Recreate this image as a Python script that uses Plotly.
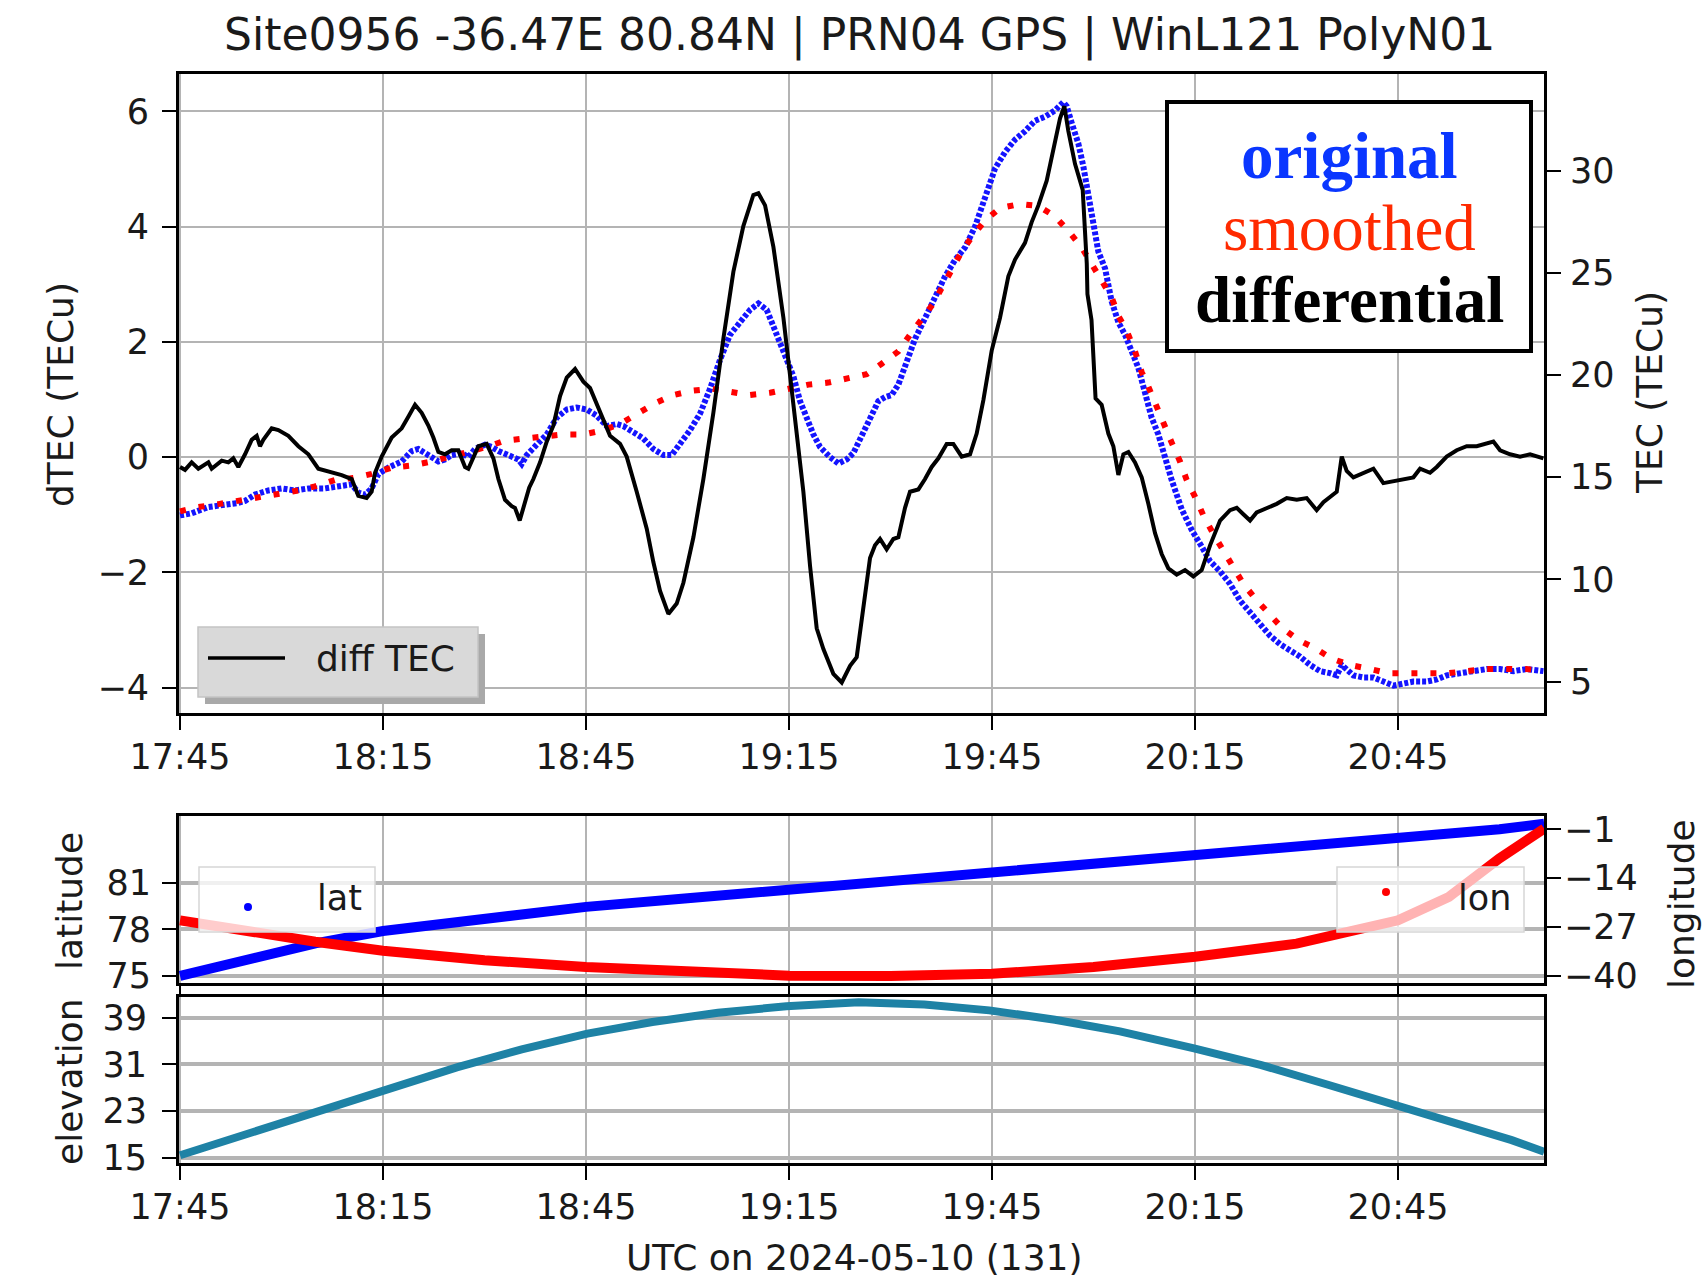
import pandas as pd
import plotly.graph_objects as go

W, H = 1705, 1277
BASE = pd.Timestamp("2024-05-10 17:45:00")

# ---------------- data (minutes after 17:45 UTC) ----------------
diff_min = [0, 0.74, 1.72, 2.71, 4.19, 4.68, 6.16, 7.14, 7.88, 8.62, 9.61, 10.59, 11.33, 11.82,
            12.31, 13.55, 14.53, 16.01, 17.49, 18.97, 20.44, 21.92, 23.89, 25.37, 26.35, 27.58,
            28.32, 28.82, 29.80, 31.28, 32.76, 33.74, 34.73, 35.71, 36.70, 37.44, 38.18, 39.16,
            40.15, 41.13, 42.12, 42.61, 43.10, 44.09, 45.32, 46.31, 47.05, 48.03, 49.02, 49.5,
            50.2, 51.0, 51.6, 52.22, 53.21, 54.19, 55.18, 56.16, 57.15, 58.38, 59.61, 60.59, 62.07,
            63.55, 65.03, 66.01, 67.49, 68.97, 69.95, 70.94, 72.17, 73.40, 74.39, 75.87, 77.34,
            78.82, 80.30, 81.78, 83.25, 84.73, 85.47, 86.46, 87.69, 89.17, 90.15, 91.14, 92.12,
            93.11, 94.09, 95.08, 96.55, 97.79, 99.02, 100.0, 100.99, 101.97, 102.71, 103.45,
            104.43, 105.42, 106.16, 107.14, 107.88, 109.11, 110.10, 111.08, 112.07, 113.30,
            114.28, 115.52, 116.75, 117.73, 118.72, 119.95, 121.18, 122.41, 123.40, 124.87,
            125.86, 126.85, 128.08, 129.06, 130.05, 130.69, 131.28, 132.26, 133.4, 134.0, 134.1,
            134.7, 135.3, 136.20, 137.19, 137.93, 138.67, 139.41, 140.15, 141.13, 142.12, 143.10,
            144.09, 145.07, 146.06, 147.29, 148.52, 149.75, 150.98, 152.22, 153.70, 155.17,
            156.16, 157.14, 158.13, 159.11, 160.59, 162.07, 163.55, 165.03, 166.50, 167.98,
            168.97, 170.44, 170.94, 171.68, 172.41, 173.40, 174.88, 176.36, 177.83, 179.31,
            180.79, 182.27, 183.25, 184.73, 185.72, 187.19, 188.67, 190.15, 191.63, 193.10,
            194.09, 195.08, 196.55, 198.03, 199.51, 201.48]
diff_tec = [-0.17, -0.22, -0.09, -0.20, -0.09, -0.20, -0.06, -0.09, -0.02, -0.17, 0.05, 0.30, 0.37,
            0.19, 0.30, 0.50, 0.47, 0.37, 0.19, 0.05, -0.20, -0.24, -0.31, -0.38, -0.67, -0.71,
            -0.60, -0.27, 0.01, 0.34, 0.50, 0.70, 0.91, 0.77, 0.55, 0.34, 0.09, 0.05, 0.12, 0.12,
            -0.17, -0.20, -0.06, 0.19, 0.23, -0.02, -0.38, -0.74, -0.85, -0.88, -1.10, -0.75,
            -0.53, -0.38, -0.09, 0.27, 0.55, 1.06, 1.38, 1.53, 1.31, 1.20, 0.77, 0.37, 0.23, 0.01,
            -0.60, -1.24, -1.82, -2.32, -2.72, -2.54, -2.18, -1.39, -0.38, 0.77, 2.06, 3.22, 4.01,
            4.55, 4.58, 4.37, 3.65, 2.42, 1.42, 0.41, -0.60, -1.89, -2.97, -3.33, -3.76, -3.91,
            -3.62, -3.47, -2.61, -1.75, -1.53, -1.42, -1.60, -1.42, -1.39, -0.88, -0.60, -0.56,
            -0.38, -0.17, -0.02, 0.23, 0.23, 0.01, 0.05, 0.41, 0.99, 1.85, 2.42, 3.14, 3.43, 3.72,
            4.08, 4.37, 4.80, 5.30, 5.88, 6.09, 5.66, 5.09, 4.64, 3.36, 2.83, 2.38, 1.02, 0.91,
            0.41, 0.19, -0.31, 0.05, 0.09, -0.09, -0.35, -0.81, -1.32, -1.68, -1.93, -2.04,
            -1.96, -2.07, -1.96, -1.53, -1.10, -0.92, -0.88, -0.99, -1.10, -0.96, -0.88, -0.81,
            -0.71, -0.74, -0.71, -0.92, -0.78, -0.63, -0.60, 0.01, -0.24, -0.35, -0.27, -0.20,
            -0.45, -0.42, -0.38, -0.35, -0.20, -0.27, -0.17, 0.01, 0.12, 0.19, 0.19, 0.23, 0.27,
            0.12, 0.05, 0.01, 0.05, -0.02]

orig_min = [0, 1.72, 4.19, 6.65, 8.62, 9.61, 11.08, 13.05, 15.02, 16.99, 18.97, 21.43, 23.89,
            25.37, 26.35, 27.34, 28.32, 29.31, 30.79, 32.76, 34.24, 35.22, 36.70, 38.18, 39.16,
            40.15, 41.63, 42.61, 43.60, 45.08, 46.06, 47.05, 48.52, 50.0, 50.5, 51.24, 52.71,
            54.19, 55.67, 57.15, 58.62, 60.10, 61.58, 63.06, 64.54, 65.52, 67.0, 68.48, 69.95,
            71.43, 72.66, 73.89, 75.37, 76.85, 78.33, 79.81, 81.28, 82.76, 84.24, 85.47, 86.70,
            87.69, 88.67, 89.66, 90.64, 91.63, 92.61, 93.60, 94.58, 96.06, 97.29, 98.52, 99.51,
            100.50, 101.23, 102.22, 103.20, 104.19, 105.17, 106.16, 107.14, 108.62, 110.10,
            111.57, 113.05, 114.53, 116.01, 117.49, 118.96, 120.44, 121.92, 123.40, 124.87,
            126.35, 127.83, 129.31, 130.54, 131.03, 131.77, 132.76, 133.50, 134.23, 134.97,
            135.71, 136.70, 137.68, 138.67, 139.65, 140.64, 141.62, 142.61, 143.59, 144.58,
            145.56, 146.55, 148.03, 149.50, 150.98, 152.22, 153.70, 155.17, 156.65, 158.13,
            159.61, 161.09, 162.56, 164.04, 165.52, 167.0, 168.47, 169.95, 170.94, 171.68,
            172.41, 173.40, 174.88, 176.36, 177.83, 179.31, 180.79, 182.27, 184.24, 185.72,
            187.19, 189.16, 191.13, 193.10, 195.08, 197.04, 199.01, 201.48]
orig_tec = [13.13, 13.23, 13.54, 13.64, 13.74, 13.84, 14.15, 14.35, 14.45, 14.35, 14.45, 14.45,
            14.55, 14.65, 14.25, 14.15, 14.45, 15.16, 15.47, 15.77, 16.28, 16.38, 16.08, 15.77,
            15.87, 16.08, 16.18, 15.98, 16.38, 16.59, 16.48, 16.28, 16.08, 15.87, 15.65, 16.08,
            16.59, 17.09, 17.91, 18.31, 18.41, 18.31, 18.01, 17.50, 17.60, 17.50, 17.20, 16.89,
            16.38, 16.08, 16.08, 16.59, 17.30, 18.11, 19.33, 20.75, 21.97, 22.58, 23.19, 23.50,
            23.19, 22.38, 21.57, 20.75, 19.94, 18.72, 17.91, 17.09, 16.48, 15.98, 15.67, 15.87,
            16.18, 16.89, 17.30, 18.11, 18.72, 18.92, 19.02, 19.53, 20.35, 21.77, 22.78, 23.80,
            24.82, 25.63, 26.24, 27.26, 28.68, 30.10, 30.91, 31.52, 31.93, 32.44, 32.64, 32.95,
            33.35, 33.15, 32.34, 31.32, 30.20, 28.88, 27.46, 26.04, 25.22, 23.60, 22.58, 21.97,
            21.16, 20.35, 19.13, 17.91, 17.09, 15.87, 14.86, 13.43, 12.42, 11.61, 10.89, 10.39,
            9.78, 8.96, 8.35, 7.74, 7.24, 6.83, 6.52, 6.22, 5.81, 5.51, 5.41, 5.30, 5.81, 5.61,
            5.30, 5.20, 5.20, 5.00, 4.80, 4.90, 5.00, 5.00, 5.10, 5.30, 5.41, 5.51, 5.61, 5.61,
            5.51, 5.61, 5.51]

smooth_min = [0, 2.71, 5.67, 8.62, 11.58, 14.53, 17.49, 19.95, 22.91, 25.62, 28.32, 31.28, 34.24,
              37.19, 39.65, 42.61, 45.32, 48.03, 50.74, 53.70, 56.65, 59.61, 62.57, 65.03, 67.49,
              70.20, 72.91, 75.62, 78.57, 81.53, 84.24, 87.20, 89.90, 92.86, 95.81, 98.77,
              101.48, 103.69, 106.16, 107.88, 109.60, 111.33, 112.81, 114.04, 115.52, 116.99,
              118.96, 121.18, 124.14, 126.85, 129.31, 131.28, 133.25, 134.73, 136.20, 137.68,
              138.67, 139.90, 141.13, 142.12, 143.10, 144.33, 145.56, 146.55, 147.78, 148.77,
              150.0, 151.23, 152.71, 154.19, 155.67, 157.14, 158.87, 160.84, 162.81, 165.27,
              167.73, 170.20, 172.91, 175.86, 178.57, 181.53, 184.48, 187.44, 190.15, 193.10,
              196.06, 199.01, 201.48]
smooth_tec = [13.33, 13.54, 13.68, 13.84, 14.04, 14.15, 14.35, 14.55, 14.86, 14.96, 15.16, 15.47,
              15.57, 15.77, 15.98, 16.18, 16.48, 16.79, 16.89, 17.05, 17.09, 17.09, 17.30, 17.60,
              18.11, 18.62, 19.02, 19.23, 19.33, 19.13, 19.02, 19.13, 19.33, 19.53, 19.63, 19.84,
              20.04, 20.55, 21.16, 21.97, 22.78, 23.50, 24.41, 25.22, 26.04, 26.75, 27.56, 28.17,
              28.37, 28.27, 27.76, 27.05, 26.24, 25.43, 24.61, 23.80, 22.89, 22.17, 21.16, 20.14,
              19.43, 18.41, 17.50, 16.69, 15.77, 14.86, 14.04, 13.13, 12.22, 11.40, 10.59, 9.78,
              9.07, 8.35, 7.64, 7.03, 6.63, 6.12, 5.81, 5.61, 5.41, 5.41, 5.41, 5.41, 5.51, 5.61,
              5.61, 5.61, 5.51]

geo_min = [0, 10, 20, 30, 45, 60, 75, 90, 105, 120, 135, 150, 165, 180, 187.5, 195, 201.6]
lat_deg = [75.0, 76.1, 77.1, 77.9, 78.75, 79.45, 80.0, 80.55, 81.1, 81.65, 82.2, 82.75, 83.3,
           83.8, 84.1, 84.45, 84.8]
lon_deg = [-25.2, -28.3, -30.9, -33.3, -35.8, -37.6, -38.9, -39.9, -40.0, -39.4, -37.6, -34.9,
           -31.4, -25.2, -19.0, -8.7, -0.8]

elev_min = [0, 10.3, 20.0, 30.0, 40.9, 50.5, 60.2, 69.8, 79.5, 89.6, 100.3, 110.0, 119.6, 129.3,
            138.9, 149.7, 159.8, 169.4, 179.1, 188.7, 196.8, 201.6]
elev_deg = [15.4, 19.2, 23.0, 26.6, 30.5, 33.6, 36.3, 38.3, 39.9, 41.0, 41.7, 41.3, 40.3, 38.7,
            36.7, 33.8, 30.9, 27.6, 24.3, 20.9, 18.0, 16.0]

tick_min = [0, 30, 60, 90, 120, 150, 180]
tick_text = ["17:45", "18:15", "18:45", "19:15", "19:45", "20:15", "20:45"]
dtec_ticks = [-4, -2, 0, 2, 4, 6]
tec_ticks = [5, 10, 15, 20, 25, 30]
lat_ticks = [75, 78, 81]
lon_ticks = [-40, -27, -14, -1]
elev_ticks = [15, 23, 31, 39]


def ts(minutes):
    return [BASE + pd.Timedelta(minutes=float(m)) for m in minutes]


def fx(px):
    return px / W


def fy(px):
    return 1 - px / H


def minus(vals):
    return [str(v).replace("-", "\u2212") for v in vals]


INK = "#1a1a1a"
GRID = "#b4b4b4"
FONT = "DejaVu Sans"
X_RANGE = ts([-0.15, 201.57])
X_DOMAIN = [fx(179), fx(1544)]

fig = go.Figure()

# top panel: TEC (right axis, y) and differential TEC (left axis, y2)
fig.add_trace(go.Scatter(x=ts(orig_min), y=orig_tec, mode="lines", name="original",
                         line=dict(color="#1414ff", width=6, dash="4px,2px"),
                         xaxis="x", yaxis="y", showlegend=False))
fig.add_trace(go.Scatter(x=ts(smooth_min), y=smooth_tec, mode="lines", name="smoothed",
                         line=dict(color="#ff0000", width=6, dash="6px,13px"),
                         xaxis="x", yaxis="y", showlegend=False))
fig.add_trace(go.Scatter(x=ts(diff_min), y=diff_tec, mode="lines", name="diff TEC",
                         line=dict(color="black", width=4),
                         xaxis="x", yaxis="y2", showlegend=False))

# middle panel: latitude / longitude
fig.add_trace(go.Scatter(x=ts(geo_min), y=lat_deg, mode="lines", name="lat",
                         line=dict(color="#0000ff", width=10),
                         xaxis="x2", yaxis="y3", showlegend=False))
fig.add_trace(go.Scatter(x=ts(geo_min), y=lon_deg, mode="lines", name="lon",
                         line=dict(color="#ff0000", width=10),
                         xaxis="x2", yaxis="y4", showlegend=False))

# bottom panel: elevation
fig.add_trace(go.Scatter(x=ts(elev_min), y=elev_deg, mode="lines", name="elevation",
                         line=dict(color="#1e82a5", width=8),
                         xaxis="x3", yaxis="y5", showlegend=False))

tickfont = dict(family=FONT, size=35, color=INK)
common_x = dict(domain=X_DOMAIN, type="date", range=X_RANGE, tickvals=ts(tick_min),
                ticktext=tick_text, ticks="outside", ticklen=14, tickwidth=2, tickcolor="black",
                showline=True, linewidth=3, linecolor="black", mirror=True, automargin=False,
                showgrid=True, gridcolor=GRID, gridwidth=2, zeroline=False, tickfont=tickfont)
common_y = dict(ticks="outside", ticklen=14, tickwidth=2, tickcolor="black", showline=True,
                linewidth=3, linecolor="black", zeroline=False, tickfont=tickfont,
                automargin=False)

fig.update_layout(
    width=W, height=H, margin=dict(l=0, r=0, t=0, b=0, autoexpand=False),
    paper_bgcolor="white", plot_bgcolor="white", showlegend=False,
    xaxis=dict(common_x, anchor="y", ticklabelstandoff=-3),
    yaxis=dict(common_y, domain=[fy(713), fy(74)], anchor="x", side="right",
               range=[3.46, 34.73], tickvals=tec_ticks, showgrid=False, ticklabelstandoff=2),
    yaxis2=dict(common_y, overlaying="y", anchor="x", side="left", range=[-4.44, 6.65],
                tickvals=dtec_ticks, ticktext=minus(dtec_ticks), showgrid=True,
                gridcolor=GRID, gridwidth=2, ticklabelstandoff=6),
    xaxis2=dict(common_x, anchor="y3", showticklabels=False, gridwidth=1.5),
    yaxis3=dict(common_y, domain=[fy(983), fy(816)], anchor="x2", side="left",
                range=[74.55, 85.3], tickvals=lat_ticks, showgrid=True, gridcolor=GRID,
                gridwidth=3.5, mirror=True, ticklabelstandoff=4),
    yaxis4=dict(common_y, overlaying="y3", anchor="x2", side="right", range=[-41.86, 2.54],
                tickvals=lon_ticks, ticktext=minus(lon_ticks), showgrid=False,
                ticklabelstandoff=-4),
    xaxis3=dict(common_x, anchor="y5", ticklabelstandoff=-3, gridwidth=1.5),
    yaxis5=dict(common_y, domain=[fy(1163), fy(997)], anchor="x3", side="left",
                range=[14.07, 42.6], tickvals=elev_ticks, showgrid=True, gridcolor=GRID,
                gridwidth=3.5, mirror=True, ticklabelstandoff=8),
)

shapes = []
annotations = []


def text(s, x, y, size=36, color=INK, family=FONT, angle=0, xanchor="center"):
    annotations.append(dict(text=s, x=fx(x), y=fy(y), xref="paper", yref="paper",
                            showarrow=False, xanchor=xanchor, yanchor="middle",
                            textangle=angle, font=dict(family=family, size=size, color=color)))


def rect(x0, y0, x1, y1, fill, line_color, line_width):
    shapes.append(dict(type="rect", xref="paper", yref="paper", x0=fx(x0), x1=fx(x1),
                       y0=fy(y1), y1=fy(y0), fillcolor=fill, layer="above",
                       line=dict(color=line_color, width=line_width)))


# titles
text("Site0956 -36.47E 80.84N | PRN04 GPS | WinL121 PolyN01", 859, 35, size=44)
text("dTEC (TECu)", 60, 395, angle=-90)
text("TEC (TECu)", 1649, 393, angle=-90)
text("latitude", 69, 901, angle=-90)
text("longitude", 1681, 904, angle=-90)
text("elevation", 69, 1082, angle=-90)
text("UTC on 2024-05-10 (131)", 854, 1257)

# series key box
rect(1167, 102, 1531, 351, "white", "black", 4)
text("<b>original</b>", 1349, 156, size=65, color="#0a36ff", family="Liberation Serif")
text("smoothed", 1349, 228, size=65, color="#ff2a00", family="Liberation Serif")
text("<b>differential</b>", 1349, 300, size=65, color="black", family="Liberation Serif")

# diff TEC key
rect(205, 634, 485, 704, "#a9a9a9", "#a9a9a9", 0)
rect(198, 627, 478, 697, "#d9d9d9", "#c4c4c4", 1.5)
shapes.append(dict(type="line", xref="paper", yref="paper", x0=fx(208), x1=fx(285),
                   y0=fy(658), y1=fy(658), layer="above", line=dict(color="black", width=3.5)))
text("diff TEC", 314, 658, size=36, xanchor="left")

# lat / lon keys
rect(199, 867, 375, 932, "rgba(255,255,255,0.8)", "#d6d6d6", 1.5)
rect(1337, 867, 1524, 932, "rgba(255,255,255,0.7)", "#d6d6d6", 1.5)
shapes.append(dict(type="circle", xref="paper", yref="paper", x0=fx(244), x1=fx(252),
                   y0=fy(911), y1=fy(903), layer="above", fillcolor="#0000ff",
                   line=dict(width=0)))
shapes.append(dict(type="circle", xref="paper", yref="paper", x0=fx(1382), x1=fx(1390),
                   y0=fy(896), y1=fy(888), layer="above", fillcolor="#ff0000",
                   line=dict(width=0)))
text("lat", 315, 898, size=35, xanchor="left")
text("lon", 1456, 898, size=35, xanchor="left")

fig.update_layout(shapes=shapes, annotations=annotations)

fig.write_html("out.html")
